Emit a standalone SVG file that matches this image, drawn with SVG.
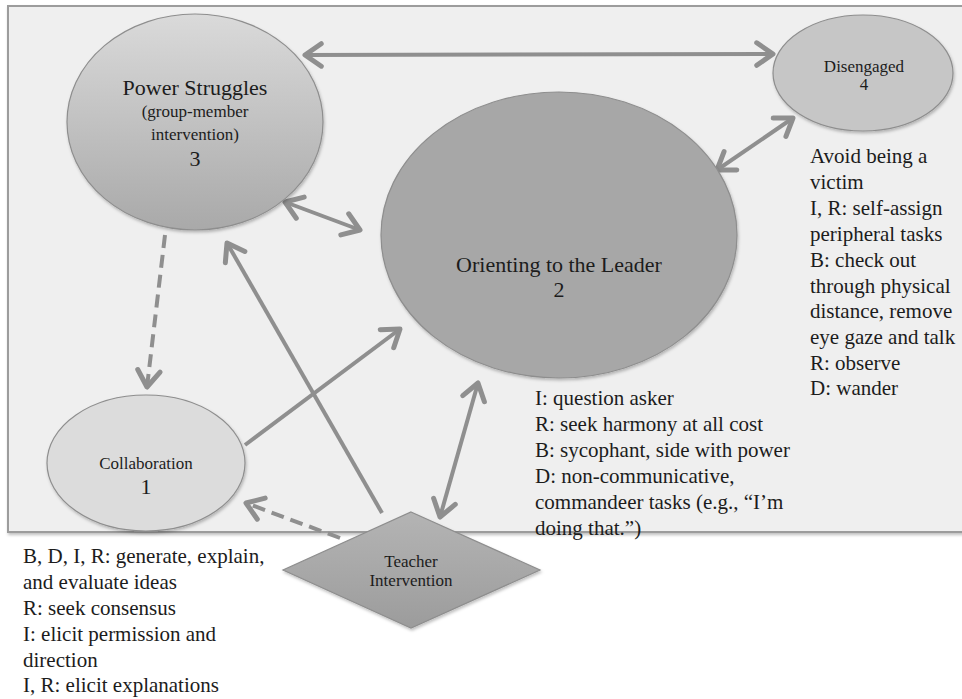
<svg xmlns="http://www.w3.org/2000/svg" width="962" height="699" viewBox="0 0 962 699">
<style>
.node{stroke:#8e8e8e;stroke-width:1.2}
.t{font-family:"Liberation Serif","Times New Roman",serif;fill:#1c1c1c}
.big{font-size:22px}
.small{font-size:17px}
.body{font-size:21px}
.conn{stroke:#8f8f8f;stroke-width:4;fill:none}
.dash{stroke-dasharray:13 7}
</style>
<defs>
<marker id="ah" markerUnits="userSpaceOnUse" markerWidth="30" markerHeight="30" viewBox="-16 -12 20 24" refX="0" refY="0" orient="auto-start-reverse">
<path d="M-13,-9 L0,0 L-13,9" fill="none" stroke="#8f8f8f" stroke-width="4" stroke-linecap="round" stroke-linejoin="round"/>
</marker>
<linearGradient id="gPower" x1="0" y1="0" x2="0" y2="1">
<stop offset="0" stop-color="#dadada"/>
<stop offset="1" stop-color="#a9a9a9"/>
</linearGradient>
<linearGradient id="gTeach" x1="0" y1="0" x2="0" y2="1">
<stop offset="0" stop-color="#b4b4b4"/>
<stop offset="1" stop-color="#9c9c9c"/>
</linearGradient>
<filter id="sh" x="-10%" y="-10%" width="125%" height="125%">
<feDropShadow dx="1" dy="2" stdDeviation="1.5" flood-color="#000" flood-opacity="0.25"/>
</filter>
</defs>
<rect width="962" height="699" fill="#ffffff"/>
<rect id="panel" x="8" y="6" width="970" height="526" fill="#efefef" stroke="#9c9c9c" stroke-width="2" filter="url(#sh)"/>

<g id="connectors">
<line class="conn" x1="305" y1="55" x2="773" y2="54" marker-start="url(#ah)" marker-end="url(#ah)"/>
<line class="conn" x1="285" y1="202" x2="360" y2="230" marker-start="url(#ah)" marker-end="url(#ah)"/>
<line class="conn" x1="717" y1="170" x2="793" y2="118" marker-start="url(#ah)" marker-end="url(#ah)"/>
<line class="conn dash" x1="165" y1="235" x2="147" y2="387" marker-end="url(#ah)"/>
<line class="conn" x1="382" y1="513" x2="227" y2="243" marker-end="url(#ah)"/>
<line class="conn" x1="245" y1="445" x2="400" y2="329" marker-end="url(#ah)"/>
<line class="conn" x1="440" y1="517" x2="478" y2="383" marker-start="url(#ah)" marker-end="url(#ah)"/>
<line class="conn dash" x1="340" y1="538" x2="246" y2="503" marker-end="url(#ah)"/>
</g>

<g id="power">
<ellipse class="node" cx="195" cy="122" rx="128" ry="108" fill="url(#gPower)" filter="url(#sh)"/>
<text class="t big" x="195" y="95" text-anchor="middle">Power Struggles</text>
<text class="t small" x="195" y="117" text-anchor="middle">(group-member</text>
<text class="t small" x="195" y="140" text-anchor="middle">intervention)</text>
<text class="t big" x="195" y="166" text-anchor="middle">3</text>
</g>

<g id="disengaged">
<ellipse class="node" cx="863" cy="73" rx="90" ry="58" fill="#c6c6c6" filter="url(#sh)"/>
<text class="t small" x="864" y="72" text-anchor="middle">Disengaged</text>
<text class="t small" x="864" y="90" text-anchor="middle">4</text>
</g>

<g id="orienting">
<ellipse class="node" cx="559" cy="235" rx="178" ry="143" fill="#a7a7a7" filter="url(#sh)"/>
<text class="t big" x="559" y="272" text-anchor="middle">Orienting to the Leader</text>
<text class="t big" x="559" y="297" text-anchor="middle">2</text>
</g>

<g id="collaboration">
<ellipse class="node" cx="146" cy="463" rx="99" ry="68" fill="#dcdcdc" filter="url(#sh)"/>
<text class="t small" x="146" y="469" text-anchor="middle">Collaboration</text>
<text class="t big" x="146" y="494" text-anchor="middle">1</text>
</g>

<g id="teacher">
<polygon class="node" points="411,512 540,570 411,628 283,570" fill="url(#gTeach)" filter="url(#sh)"/>
<text class="t small" x="411" y="567" text-anchor="middle">Teacher</text>
<text class="t small" x="411" y="586" text-anchor="middle">Intervention</text>
</g>

<g id="disengaged-notes">
<text class="t body" x="810" y="163">Avoid being a</text>
<text class="t body" x="810" y="189">victim</text>
<text class="t body" x="810" y="215">I, R: self-assign</text>
<text class="t body" x="810" y="241">peripheral tasks</text>
<text class="t body" x="810" y="267">B: check out</text>
<text class="t body" x="810" y="293">through physical</text>
<text class="t body" x="810" y="318">distance, remove</text>
<text class="t body" x="810" y="344">eye gaze and talk</text>
<text class="t body" x="810" y="370">R: observe</text>
<text class="t body" x="810" y="395">D: wander</text>
</g>

<g id="orienting-notes">
<text class="t body" x="535" y="405">I: question asker</text>
<text class="t body" x="535" y="431">R: seek harmony at all cost</text>
<text class="t body" x="535" y="457">B: sycophant, side with power</text>
<text class="t body" x="535" y="483">D: non-communicative,</text>
<text class="t body" x="535" y="509">commandeer tasks (e.g., “I’m</text>
<text class="t body" x="535" y="535">doing that.”)</text>
</g>

<g id="collaboration-notes">
<text class="t body" x="23" y="563">B, D, I, R: generate, explain,</text>
<text class="t body" x="23" y="589">and evaluate ideas</text>
<text class="t body" x="23" y="615">R: seek consensus</text>
<text class="t body" x="23" y="641">I: elicit permission and</text>
<text class="t body" x="23" y="667">direction</text>
<text class="t body" x="23" y="692">I, R: elicit explanations</text>
</g>
</svg>
